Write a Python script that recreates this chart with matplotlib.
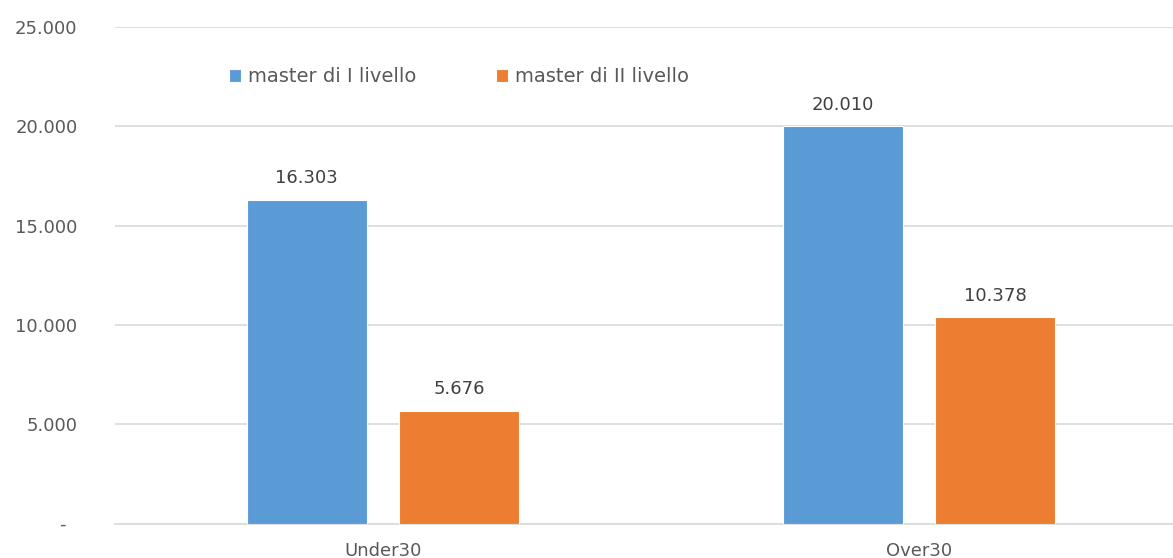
import matplotlib.pyplot as plt
import numpy as np

categories = ["Under30", "Over30"]
master_1 = [16303, 20010]
master_2 = [5676, 10378]
series_names = ["master di I livello", "master di II livello"]
yticks = [0, 5000, 10000, 15000, 20000, 25000]


def fmt_it(v):
    # Italian thousands separator, zero shown as a dash (accounting style)
    if v == 0:
        return "-  "
    return f"{v:,.0f}".replace(",", ".")


plt.rcParams['font.family'] = ['DejaVu Sans']

fig = plt.figure(figsize=(11.73, 5.58), dpi=100)
ax = fig.add_axes([115 / 1173, 1 - 523.5 / 558, 1 - 115 / 1173, 496.5 / 558])

x = np.arange(len(categories))
w = 0.224
off = 0.1425
b1 = ax.bar(x - off, master_1, w, color="#5B9BD5", edgecolor="white", linewidth=0.8,
            label=series_names[0], zorder=3)
b2 = ax.bar(x + off, master_2, w, color="#ED7D31", edgecolor="white", linewidth=0.8,
            label=series_names[1], zorder=3)

for bars in (b1, b2):
    for r in bars:
        ax.annotate(fmt_it(r.get_height()), (r.get_x() + r.get_width() / 2, r.get_height()),
                    xytext=(0, 9), textcoords="offset points", ha="center", va="bottom",
                    fontsize=13, color="#404040")

ax.set_xlim(-0.5, 1.474)
ax.set_ylim(0, 25000)
ax.set_yticks(yticks)
ax.set_yticklabels([fmt_it(v) for v in yticks])
ax.set_xticks(x)
ax.set_xticklabels(categories)
ax.tick_params(axis="both", length=0, labelsize=13, colors="#595959")
ax.tick_params(axis="y", pad=27)
ax.tick_params(axis="x", pad=13)

ax.grid(axis="y", color="#D9D9D9", linewidth=1.2, zorder=0)
for s in ["top", "right", "left"]:
    ax.spines[s].set_visible(False)
ax.spines["bottom"].set_color("#D9D9D9")
ax.spines["bottom"].set_linewidth(1.2)

ax.legend(loc="center left", bbox_to_anchor=(229 / 1173, 1 - 77 / 558), ncol=2,
          frameon=False, fontsize=14, labelcolor="#595959", handlelength=0.62,
          handleheight=0.62, handletextpad=0.35, columnspacing=4.1,
          borderaxespad=0, borderpad=0, bbox_transform=fig.transFigure)

fig.savefig("out.png", dpi=100)
